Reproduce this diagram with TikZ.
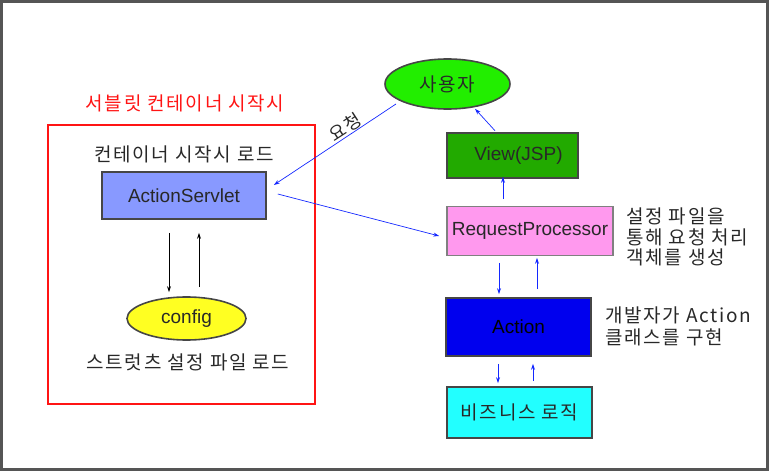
\documentclass[tikz,border=0pt]{standalone}
\usepackage{fontspec}
\setmainfont{Liberation Sans}
\newfontfamily\kr[LetterSpace=9]{Noto Sans CJK KR}
\usetikzlibrary{shapes.geometric,arrows.meta}
\definecolor{frame}{RGB}{85,85,85}
\definecolor{boxline}{RGB}{70,70,70}
\definecolor{txt}{RGB}{40,40,40}
\definecolor{asfill}{RGB}{136,153,255}
\definecolor{cfgfill}{RGB}{255,255,34}
\definecolor{userfill}{RGB}{34,238,0}
\definecolor{viewfill}{RGB}{34,170,0}
\definecolor{rpfill}{RGB}{255,153,238}
\definecolor{actfill}{RGB}{0,0,238}
\definecolor{bizfill}{RGB}{34,255,255}
\definecolor{arrowblue}{RGB}{20,40,255}
\definecolor{titlered}{RGB}{255,20,20}
\begin{document}
\begin{tikzpicture}[x=1pt,y=-1pt,
  base/.style={font=\fontsize{19}{21}\selectfont, text=txt, inner sep=0pt},
  krtext/.style={base, font=\kr\fontsize{19}{22}\selectfont},
  boxnode/.style={base, draw=boxline, line width=1.6pt, rectangle},
  ellnode/.style={base, draw=boxline, line width=1.6pt, ellipse},
  blk/.style={-{Stealth[length=6pt,width=4pt]}, line width=0.7pt, black},
  blu/.style={-{Stealth[length=6pt,width=4pt]}, line width=0.7pt, arrowblue}
]
\useasboundingbox (0,0) rectangle (769,471);
\draw[frame, line width=3pt] (1.5,1.5) rectangle (767.5,469.5);

% left container
\draw[titlered, line width=1.2pt] (48,125) rectangle (315,404);
\node[krtext, text=titlered] (title) at (185,103) {서블릿 컨테이너 시작시};
\node[krtext] (aslabel) at (184,154) {컨테이너 시작시 로드};
\node[boxnode, fill=asfill, minimum width=164pt, minimum height=47pt] (as) at (184,195.5) {ActionServlet};
\node[ellnode, fill=cfgfill, minimum width=119pt, minimum height=43pt] (cfg) at (186.5,318.5) {config};
\node[krtext] (cfglabel) at (188,362) {스트럿츠 설정 파일 로드};

% right column
\node[ellnode, fill=userfill, minimum width=125pt, minimum height=50pt, font=\kr\fontsize{19}{22}\selectfont] (user) at (447.5,84) {사용자};
\node[boxnode, fill=viewfill, minimum width=131pt, minimum height=45pt, text width=131pt, align=center] (view) at (512.5,155.5) {\hspace*{12pt}View(JSP)};
\node[boxnode, draw=gray, fill=rpfill, minimum width=166pt, minimum height=49pt] (rp) at (530,231) {RequestProcessor};
\node[boxnode, fill=actfill, minimum width=145pt, minimum height=58pt, text=black] (act) at (518.5,327) {Action};
\node[boxnode, fill=bizfill, minimum width=145pt, minimum height=51pt, font=\kr\fontsize{19}{22}\selectfont] (biz) at (519.5,412.5) {비즈니스 로직};

\node[krtext, anchor=west, align=left, font=\kr\fontsize{19}{20.5}\selectfont] (rpnote) at (626,237) {설정 파일을\\통해 요청 처리\\객체를 생성};
\node[krtext, anchor=west, align=left, font=\kr\fontsize{19}{22}\selectfont] (actnote) at (605,326) {개발자가 Action\\클래스를 구현};

% connectors
\draw[blk] ([shift={(-15,13)}]as.south) -- ([shift={(-17.5,-4)}]cfg.north);
\draw[blk] ([shift={(12.5,-9)}]cfg.north) -- ([shift={(15,13)}]as.south);
\draw[blu] ([shift={(-51.5,20)}]user.center) -- ([shift={(7,-10.5)}]as.east) node[pos=0.38, rotate=33, anchor=south, inner sep=2.5pt, krtext, font=\kr\fontsize{18}{20}\selectfont] (req) {요청};
\draw[blu] ([shift={(11,-1.5)}]as.east) -- ([shift={(-7,5)}]rp.west);
\draw[blu] ([shift={(-27,-6.5)}]rp.north) -- ([shift={(-9.5,-2)}]view.south);
\draw[blu] ([shift={(-17.5,-1.5)}]view.north) -- ([shift={(27.5,-1)}]user.south);
\draw[blu] ([shift={(-31,6.5)}]rp.south) -- ([shift={(-19.5,-3)}]act.north);
\draw[blu] ([shift={(18.5,-8)}]act.north) -- ([shift={(7,1.5)}]rp.south);
\draw[blu] ([shift={(-20.5,7)}]act.south) -- ([shift={(-21.5,-3)}]biz.north);
\draw[blu] ([shift={(13.5,-5)}]biz.north) -- ([shift={(14.5,7)}]act.south);
\end{tikzpicture}
\end{document}
